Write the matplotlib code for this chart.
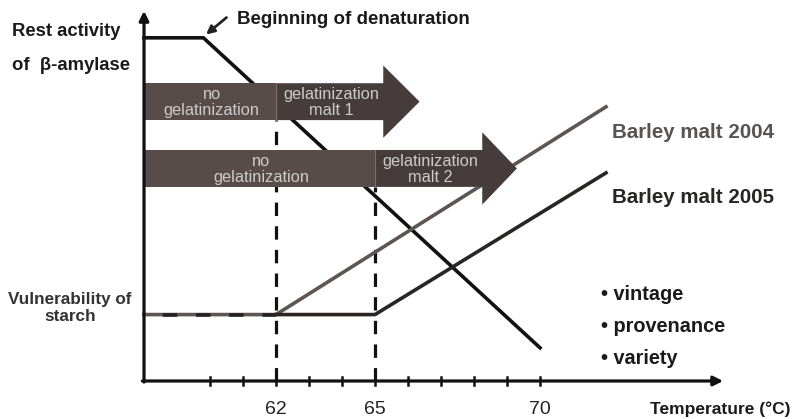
import matplotlib.pyplot as plt
from matplotlib.patches import Polygon

plt.rcParams['font.family'] = ['Liberation Sans', 'DejaVu Sans']

# temperature ticks (deg C)
tick_temps = [60, 61, 62, 63, 64, 65, 66, 67, 68, 69, 70]
tick_labels = {62: '62', 65: '65', 70: '70'}

# rest activity of beta-amylase (relative units)
activity_temp = [58, 59.8, 70]
activity = [93, 93, 9]

# vulnerability of starch
malt2004_temp = [58, 62, 72]
malt2004 = [18, 18, 74.3]
malt2005_temp = [58, 62, 65, 72]
malt2005 = [18, 18, 18, 56.4]

# gelatinization onset temperatures
onset = [62, 65]

# arrow bands: (start, split, body end, tip, centre level)
bands = [(58, 62, 65.25, 66.35, 75.7), (58, 65, 68.25, 69.3, 57.6)]
band_texts = [('no\ngelatinization', 'gelatinization\nmalt 1'),
              ('no\ngelatinization', 'gelatinization\nmalt 2')]

fig = plt.figure(figsize=(7.98, 4.19), dpi=100)
ax = fig.add_axes([0, 0, 1, 1])
ax.set_xlim(53.636, 77.818)
ax.set_ylim(-10.3, 103.25)
ax.axis('off')


def px(x, y):
    return x / 798, 1 - y / 419


# dashed onset lines (under arrows)
ax.plot([onset[0], onset[0]], [0, 70.7], color='#111111', lw=2.3,
        linestyle=(0, (4.2, 3.2)), zorder=1)
ax.plot([onset[1], onset[1]], [0, 52.6], color='#111111', lw=2.3,
        linestyle=(0, (4.2, 3.2)), zorder=1)

# band arrows
half_body, half_head = 5.0, 9.8
for (x0, xs, xb, xt, yc), (t1, t2) in zip(bands, band_texts):
    left = Polygon([(x0, yc - half_body), (xs, yc - half_body),
                    (xs, yc + half_body), (x0, yc + half_body)],
                   closed=True, facecolor='#584c4b', edgecolor='none', zorder=3)
    right = Polygon([(xs, yc - half_body), (xb, yc - half_body),
                     (xb, yc - half_head), (xt, yc), (xb, yc + half_head),
                     (xb, yc + half_body), (xs, yc + half_body)],
                    closed=True, facecolor='#463c3b', edgecolor='none', zorder=3)
    ax.add_patch(left)
    ax.add_patch(right)
    ax.plot([xs, xs], [yc - half_body, yc + half_body], color='#7a7070',
            lw=0.8, zorder=4)
    ax.text((x0 + xs) / 2 + 0.05, yc - 0.3, t1, ha='center', va='center',
            color='#cfcaca', fontsize=11.8, linespacing=1.05, zorder=5)
    ax.text((xs + xb) / 2 + 0.05, yc - 0.3, t2, ha='center', va='center',
            color='#cfcaca', fontsize=11.8, linespacing=1.05, zorder=5)

# activity line
ax.plot(activity_temp, activity, color='#111111', lw=2.6,
        solid_joinstyle='miter', zorder=2)

# vulnerability lines
ax.plot(malt2004_temp, malt2004, color='#5e5555', lw=2.6, zorder=2)
ax.plot(malt2005_temp[:2], malt2005[:2], color='#222222', lw=2.6,
        linestyle=(4.0, (4.0, 5.2)), zorder=2.5)
ax.plot(malt2005_temp[1:], malt2005[1:], color='#2b2424', lw=2.6, zorder=2.5)

# axes with arrows
ax.annotate('', xy=(75.55, 0), xytext=(57.95, 0),
            arrowprops=dict(arrowstyle='-|>', lw=2.3, color='#111111',
                            mutation_scale=14, shrinkA=0, shrinkB=0))
ax.annotate('', xy=(58, 100.3), xytext=(58, -0.3),
            arrowprops=dict(arrowstyle='-|>', lw=2.3, color='#111111',
                            mutation_scale=14, shrinkA=0, shrinkB=0))
for t in tick_temps:
    ax.plot([t, t], [-1.0, 1.0], color='#111111', lw=1.8, zorder=2)
    if t in tick_labels:
        ax.text(t, -7.8, tick_labels[t], ha='center', va='center',
                fontsize=14, color='#222222')

# denaturation pointer
ax.annotate('', xy=(59.88, 93.9), xytext=(60.5, 98.5),
            arrowprops=dict(arrowstyle='-|>', lw=2.0, color='#222222',
                            mutation_scale=12, shrinkA=0, shrinkB=0))

bold = dict(fontweight='bold', color='#1a1a1a')
fig.text(*px(237, 20), 'Beginning of denaturation', ha='left', va='center',
         fontsize=13.5, **bold)
fig.text(*px(12, 31), 'Rest activity', ha='left', va='center', fontsize=13.3, **bold)
fig.text(*px(12, 66), 'of  β-amylase', ha='left', va='center', fontsize=13.3, **bold)
fig.text(*px(70, 308), 'Vulnerability of\nstarch', ha='center', va='center',
         fontsize=12.3, linespacing=1.15, fontweight='bold', color='#333333')
fig.text(*px(612, 132), 'Barley malt 2004', ha='left', va='center',
         fontsize=14.8, fontweight='bold', color='#5a5353')
fig.text(*px(612, 197), 'Barley malt 2005', ha='left', va='center',
         fontsize=14.8, fontweight='bold', color='#2a2525')
for yy, word in zip([294, 326, 358], ['vintage', 'provenance', 'variety']):
    fig.text(*px(601, yy), '• ' + word, ha='left', va='center',
             fontsize=14.3, **bold)
fig.text(*px(650, 409), 'Temperature (°C)', ha='left', va='center',
         fontsize=12.5, **bold)

fig.savefig('out.png', dpi=100)
